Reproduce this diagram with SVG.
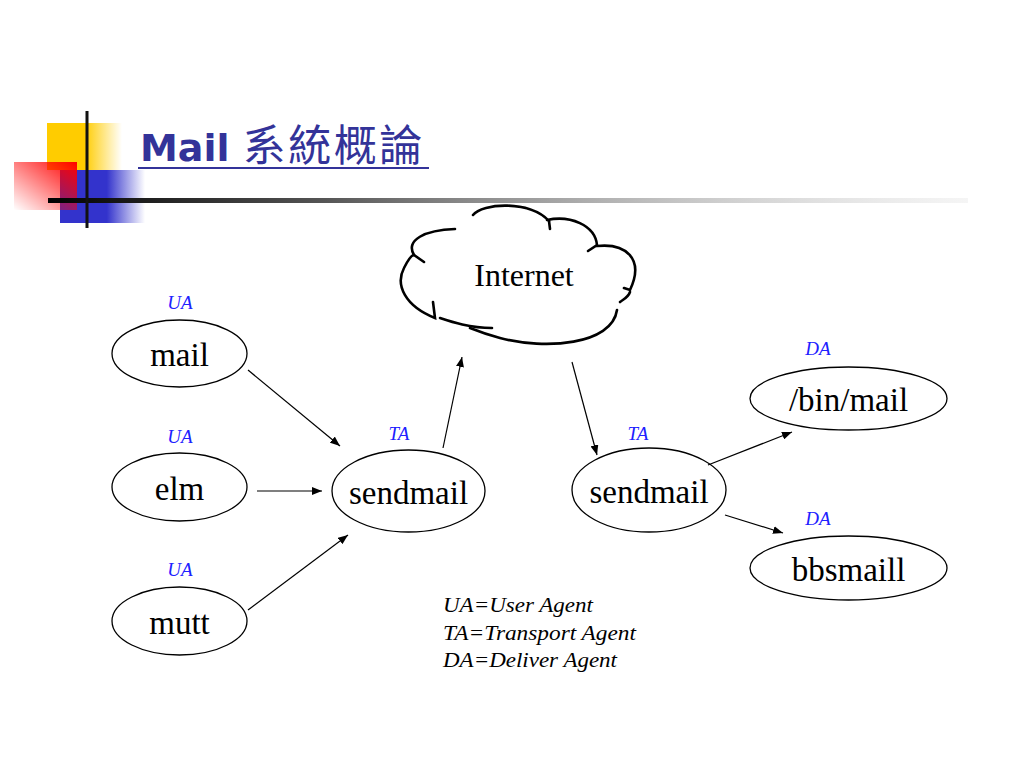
<svg xmlns="http://www.w3.org/2000/svg" width="1024" height="768" viewBox="0 0 1024 768">
<defs>
<style>
.node ellipse{fill:#fff;stroke:#000;stroke-width:1.3}
.node text{font-family:"Liberation Serif","Times New Roman",serif;font-size:33px;fill:#000;text-anchor:middle}
.tag{font-family:"Liberation Serif","Times New Roman",serif;font-style:italic;font-size:19px;fill:#2020ff;text-anchor:middle}
.edge{stroke:#000;stroke-width:1.2;fill:none;marker-end:url(#ah)}
.cloud{stroke:#000;stroke-width:2.6;fill:none;stroke-linecap:round}
.legend{font-family:"Liberation Serif","Times New Roman",serif;font-style:italic;font-size:20px;fill:#000}
</style>
<marker id="ah" viewBox="0 0 10 8" refX="10" refY="4" markerWidth="10" markerHeight="8" markerUnits="userSpaceOnUse" orient="auto">
<path d="M0,0 L10,4 L0,8 z" fill="#000"/>
</marker>
<linearGradient id="gy" x1="0" y1="0" x2="1" y2="0">
<stop offset="0" stop-color="#FFCC00"/><stop offset="0.5" stop-color="#FFCC00"/><stop offset="1" stop-color="#FFCC00" stop-opacity="0"/>
</linearGradient>
<linearGradient id="gb" x1="0" y1="0" x2="1" y2="0">
<stop offset="0" stop-color="#3333CC"/><stop offset="0.55" stop-color="#3333CC"/><stop offset="1" stop-color="#3333CC" stop-opacity="0"/>
</linearGradient>
<linearGradient id="gr" x1="1" y1="0" x2="0" y2="1">
<stop offset="0" stop-color="#FF0000"/><stop offset="1" stop-color="#FF0000" stop-opacity="0"/>
</linearGradient>
<linearGradient id="gl" x1="0" y1="0" x2="1" y2="0">
<stop offset="0" stop-color="#000"/><stop offset="0.3" stop-color="#555"/><stop offset="1" stop-color="#ddd" stop-opacity="0.3"/>
</linearGradient>
</defs>
<rect width="1024" height="768" fill="#fff"/>

<g id="header">
<rect x="47" y="123" width="75" height="47" fill="url(#gy)"/>
<rect x="60" y="170" width="85" height="53" fill="url(#gb)"/>
<rect x="14" y="162" width="63" height="48" fill="url(#gr)"/>
<rect x="48" y="198" width="920" height="5" fill="url(#gl)"/>
<rect x="85.5" y="111" width="3" height="117" fill="#111"/>
<text x="140" y="161" font-family="'DejaVu Sans',Verdana,'Noto Sans CJK TC',sans-serif" font-weight="bold" font-size="38" fill="#333399">Mail <tspan font-family="'Noto Sans CJK TC','Noto Sans CJK SC',sans-serif" font-weight="normal" font-size="43" letter-spacing="2.5">系統概論</tspan></text>
<rect x="138" y="167" width="291" height="2" fill="#333399"/>
</g>

<g id="internet">
<path class="cloud" d="M473,215 C482,203 530,200 549,221"/>
<path class="cloud" d="M549,221 L550,229"/>
<path class="cloud" d="M547,220 C570,215 595,225 597,245 L588,251"/>
<path class="cloud" d="M597,246 C625,243 645,258 630,290 L624,288"/>
<path class="cloud" d="M630,292 C628,298 622,300 620,302"/>
<path class="cloud" d="M617,310 C612,345 545,350 500,338 C485,334 475,330 470,328"/>
<path class="cloud" d="M492,328 C470,328 452,322 440,318"/>
<path class="cloud" d="M433,302 L435,318 C405,306 395,285 404,268 C408,260 412,255 414,255 L424,262"/>
<path class="cloud" d="M414,255 C405,240 425,230 455,229"/>
<text x="524" y="286" font-family="'Liberation Serif','Times New Roman',serif" font-size="32" text-anchor="middle">Internet</text>
</g>

<g id="n-mail" class="node">
<ellipse cx="179.5" cy="353.5" rx="67.5" ry="33.5"/>
<text x="179.5" y="366">mail</text>
</g>
<text class="tag" x="180" y="309">UA</text>

<g id="n-elm" class="node">
<ellipse cx="179.5" cy="487" rx="67.5" ry="34"/>
<text x="179.5" y="500">elm</text>
</g>
<text class="tag" x="180" y="443">UA</text>

<g id="n-mutt" class="node">
<ellipse cx="179.5" cy="621" rx="67.5" ry="34"/>
<text x="179.5" y="634">mutt</text>
</g>
<text class="tag" x="180" y="576">UA</text>

<g id="n-send1" class="node">
<ellipse cx="408.5" cy="491" rx="76.5" ry="41"/>
<text x="408.5" y="504">sendmail</text>
</g>
<text class="tag" x="399" y="440">TA</text>

<g id="n-send2" class="node">
<ellipse cx="649" cy="490" rx="77" ry="42"/>
<text x="649" y="503">sendmail</text>
</g>
<text class="tag" x="638" y="440">TA</text>

<g id="n-binmail" class="node">
<ellipse cx="848.5" cy="398.5" rx="98.5" ry="31.5"/>
<text x="848.5" y="411">/bin/mail</text>
</g>
<text class="tag" x="818" y="355">DA</text>

<g id="n-bbsmaill" class="node">
<ellipse cx="848.5" cy="568" rx="98.5" ry="32"/>
<text x="848.5" y="581">bbsmaill</text>
</g>
<text class="tag" x="818" y="525">DA</text>

<g id="connectors">
<line class="edge" x1="248" y1="370" x2="340" y2="446"/>
<line class="edge" x1="257" y1="491" x2="322" y2="491"/>
<line class="edge" x1="248" y1="610" x2="348" y2="535"/>
<line class="edge" x1="443" y1="448" x2="462" y2="357"/>
<line class="edge" x1="572" y1="362" x2="597" y2="455"/>
<line class="edge" x1="708" y1="465" x2="792" y2="432"/>
<line class="edge" x1="725" y1="515" x2="783" y2="533"/>
</g>

<g id="legend">
<text class="legend" x="443" y="612" textLength="150" lengthAdjust="spacingAndGlyphs">UA=User Agent</text>
<text class="legend" x="443" y="640" textLength="193" lengthAdjust="spacingAndGlyphs">TA=Transport Agent</text>
<text class="legend" x="443" y="667" textLength="174" lengthAdjust="spacingAndGlyphs">DA=Deliver Agent</text>
</g>
</svg>
